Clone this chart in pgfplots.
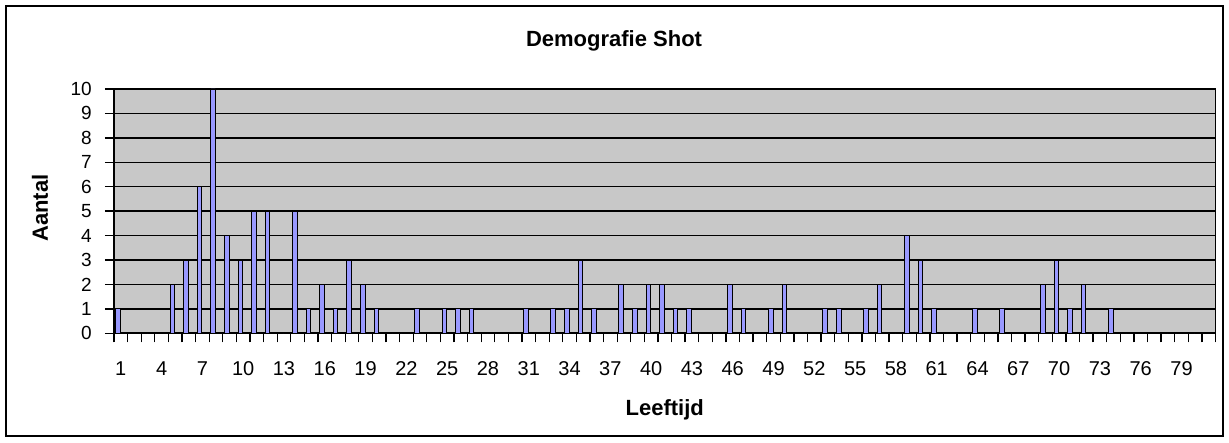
\documentclass[border=0pt]{standalone}
\usepackage{fontspec}
\setmainfont{Liberation Sans}
\usepackage{pgfplots}
\usepackage{pgfplotstable}
\pgfplotsset{compat=1.18}
\definecolor{plotgray}{RGB}{200,200,200}
\definecolor{barblue}{RGB}{153,153,255}
\pgfplotstableread{
age n
1 1
2 0
3 0
4 0
5 2
6 3
7 6
8 10
9 4
10 3
11 5
12 5
13 0
14 5
15 1
16 2
17 1
18 3
19 2
20 1
21 0
22 0
23 1
24 0
25 1
26 1
27 1
28 0
29 0
30 0
31 1
32 0
33 1
34 1
35 3
36 1
37 0
38 2
39 1
40 2
41 2
42 1
43 1
44 0
45 0
46 2
47 1
48 0
49 1
50 2
51 0
52 0
53 1
54 1
55 0
56 1
57 2
58 0
59 4
60 3
61 1
62 0
63 0
64 1
65 0
66 1
67 0
68 0
69 2
70 3
71 1
72 2
73 0
74 1
75 0
76 0
77 0
78 0
79 0
80 0
81 0
}\data
\begin{document}
\begin{tikzpicture}
\useasboundingbox (0,0) rectangle (1229pt,442pt);
\fill[white] (0,0) rectangle (1229pt,442pt);
\begin{axis}[
  at={(114pt,108.7pt)}, anchor=south west,
  scale only axis, width=1101.5pt, height=244.3pt,
  xmin=0.5, xmax=81.5, ymin=0, ymax=10,
  axis background/.style={fill=plotgray},
  axis line style={black, line width=1.8pt},
  ymajorgrids, grid style={black, line width=1.4pt},
  tick align=outside, major tick length=9pt,
  xtick pos=bottom, ytick pos=left,
  tick style={black, line width=1.3pt},
  ytick={0,1,...,10},
  xtick={0.5,1.5,...,81.5},
  xticklabels={1,{},{},4,{},{},7,{},{},10,{},{},13,{},{},16,{},{},19,{},{},22,{},{},25,{},{},28,{},{},31,{},{},34,{},{},37,{},{},40,{},{},43,{},{},46,{},{},49,{},{},52,{},{},55,{},{},58,{},{},61,{},{},64,{},{},67,{},{},70,{},{},73,{},{},76,{},{},79,{},{},{}},
  /pgf/number format/assume math mode=true,
  xticklabel style={font=\fontsize{20}{24}\selectfont, inner sep=0pt, anchor=north, xshift=6.8pt, yshift=-19pt},
  yticklabel style={font=\fontsize{19}{23}\selectfont, inner sep=0pt, anchor=east, xshift=-13pt},
  title={Demografie Shot},
  title style={at={(axis description cs:0.454,1.151)}, anchor=base, inner sep=0pt, font=\bfseries\fontsize{22}{26}\selectfont},
  xlabel={Leeftijd},
  xlabel style={at={(axis description cs:0.5,-0.3385)}, anchor=base, inner sep=0pt, font=\bfseries\fontsize{22}{26}\selectfont},
  ylabel={Aantal},
  ylabel style={at={(axis description cs:-0.0672,0.513)}, anchor=center, rotate=0, inner sep=0pt, font=\bfseries\fontsize{22}{26}\selectfont},
  ybar, bar width=4.6pt, bar shift=-2.8pt,
  clip=false,
]
\addplot[draw=black, line width=0.9pt, fill=barblue] table[x=age, y=n] {\data};
\end{axis}
\draw[black, line width=1.6pt] (6pt,6pt) rectangle (1223pt,436pt);
\end{tikzpicture}
\end{document}
